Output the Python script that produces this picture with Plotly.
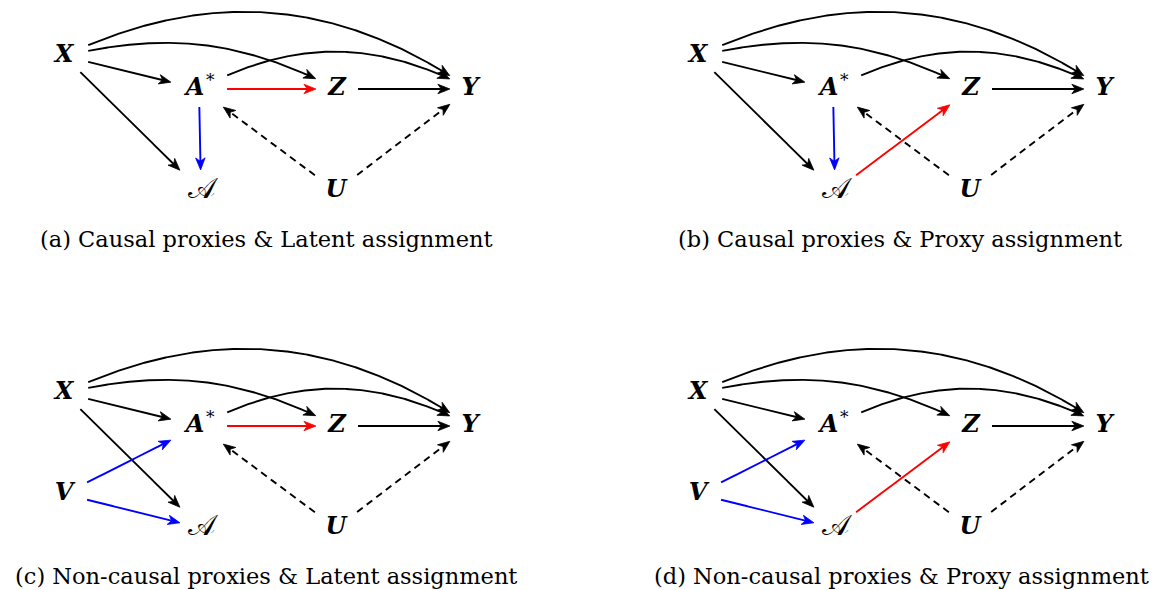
import numpy as np
import plotly.graph_objects as go

# ---- graph structure -------------------------------------------------------
node_ids = ["X", "Astar", "Z", "Y", "Acal", "U", "V"]
node_text = {
    "X": "<b><i>X</i></b>",
    "Astar": "<b><i>A</i></b>",
    "Z": "<b><i>Z</i></b>",
    "Y": "<b><i>Y</i></b>",
    "Acal": "𝒜",
    "U": "<b><i>U</i></b>",
    "V": "<b><i>V</i></b>",
}

# edges shared by every panel: (source, target, kind, bend in degrees)
shared_edges = [
    ("X", "Astar", "plain", 0),
    ("X", "Z", "plain", 20),
    ("X", "Y", "plain", 30),
    ("Astar", "Y", "plain", 28),
    ("Z", "Y", "plain", 0),
    ("X", "Acal", "plain", 0),
    ("U", "Astar", "latent", 0),
    ("U", "Y", "latent", 0),
]
latent_assignment = [("Astar", "Z", "effect", 0)]
proxy_assignment = [("Acal", "Z", "effect", 0)]
causal_proxies = [("Astar", "Acal", "proxy", 0)]
noncausal_proxies = [("V", "Astar", "proxy", 0), ("V", "Acal", "proxy", 0)]

captions = [
    "(a) Causal proxies &amp; Latent assignment",
    "(b) Causal proxies &amp; Proxy assignment",
    "(c) Non-causal proxies &amp; Latent assignment",
    "(d) Non-causal proxies &amp; Proxy assignment",
]
panel_edges = [
    shared_edges + causal_proxies + latent_assignment,
    shared_edges + causal_proxies + proxy_assignment,
    shared_edges + noncausal_proxies + latent_assignment,
    shared_edges + noncausal_proxies + proxy_assignment,
]
panel_nodes = [
    ["X", "Astar", "Z", "Y", "Acal", "U"],
    ["X", "Astar", "Z", "Y", "Acal", "U"],
    ["X", "Astar", "Z", "Y", "Acal", "U", "V"],
    ["X", "Astar", "Z", "Y", "Acal", "U", "V"],
]

# ---- layout ----------------------------------------------------------------
W, H = 1156, 590
node_pos = {"X": (64, 56), "Astar": (199, 89), "Z": (337, 89), "Y": (470, 89),
            "Acal": (201, 191), "U": (336, 191), "V": (64, 157)}
node_box = {"X": (24, 16), "Astar": (28, 18), "Z": (21, 16), "Y": (20, 16),
            "Acal": (21, 21), "U": (21, 17), "V": (23, 16)}
# label anchor shifts inside a node (the latent node carries a star)
label_shift = {"Astar": (-4, 0)}
star_shift = (11, -7)
panel_offset = [(0, 0), (634, 0), (0, 337), (634, 337)]
caption_pos = [(266, 239), (900, 239), (266, 576), (901, 576)]

styles = {
    "plain": dict(color="black", dash="solid"),
    "latent": dict(color="black", dash="7px,5px"),
    "effect": dict(color="#ff0000", dash="solid"),
    "proxy": dict(color="#0000ff", dash="solid"),
}
LINE_W = 1.9
HEAD_L, HEAD_W = 12.0, 9.5


def inside(p, c, box):
    return abs(p[0] - c[0]) <= box[0] and abs(p[1] - c[1]) <= box[1]


def edge_path(p0, p3, bend, box0, box3):
    p0, p3 = np.array(p0, float), np.array(p3, float)
    d = p3 - p0
    dist = np.hypot(*d)
    th = np.arctan2(d[1], d[0])
    b = np.radians(bend)
    k = 0.3915 * dist
    p1 = p0 + k * np.array([np.cos(th - b), np.sin(th - b)])
    p2 = p3 - k * np.array([np.cos(th + b), np.sin(th + b)])
    t = np.linspace(0, 1, 800)[:, None]
    pts = ((1 - t) ** 3 * p0 + 3 * (1 - t) ** 2 * t * p1
           + 3 * (1 - t) * t ** 2 * p2 + t ** 3 * p3)
    i0 = next(i for i, p in enumerate(pts) if not inside(p, p0, box0))
    i1 = max(i for i, p in enumerate(pts) if not inside(p, p3, box3))
    return pts[i0:i1 + 1]


line_groups = {}
head_groups = {}
for pi, edges in enumerate(panel_edges):
    ox, oy = panel_offset[pi]
    for src, dst, kind, bend in edges:
        c0 = (node_pos[src][0] + ox, node_pos[src][1] + oy)
        c3 = (node_pos[dst][0] + ox, node_pos[dst][1] + oy)
        pts = edge_path(c0, c3, bend, node_box[src], node_box[dst])
        tip = pts[-1]
        seg = np.cumsum(np.r_[0, np.hypot(*np.diff(pts[::-1], axis=0).T)])
        back = pts[::-1][np.searchsorted(seg, 4.0)]
        u = (tip - back) / np.hypot(*(tip - back))
        n = np.array([-u[1], u[0]])
        stop = 0.65 * HEAD_L
        keep = pts[::-1][seg > stop][::-1]
        keep = np.vstack([keep, tip - stop * u])
        st = styles[kind]
        key = (st["color"], st["dash"])
        lx, ly = line_groups.setdefault(key, ([], []))
        lx.extend(list(keep[:, 0]) + [None])
        ly.extend(list(keep[:, 1]) + [None])
        head = [tip,
                tip - HEAD_L * u + HEAD_W / 2 * n,
                tip - 0.72 * HEAD_L * u,
                tip - HEAD_L * u - HEAD_W / 2 * n,
                tip]
        hx, hy = head_groups.setdefault(st["color"], ([], []))
        hx.extend([p[0] for p in head] + [None])
        hy.extend([p[1] for p in head] + [None])

fig = go.Figure()
for (color, dash), (lx, ly) in line_groups.items():
    fig.add_trace(go.Scatter(x=lx, y=ly, mode="lines", hoverinfo="skip",
                             line=dict(color=color, width=LINE_W, dash=dash)))
for color, (hx, hy) in head_groups.items():
    fig.add_trace(go.Scatter(x=hx, y=hy, mode="lines", fill="toself",
                             fillcolor=color, hoverinfo="skip",
                             line=dict(color=color, width=0.8)))

# node labels: italic letters, the calligraphic proxy, and the star on A
tx, ty, tt = [], [], []
cx_, cy_, ct_ = [], [], []
sx, sy = [], []
for pi, names in enumerate(panel_nodes):
    ox, oy = panel_offset[pi]
    for nm in names:
        dx, dy = label_shift.get(nm, (0, 0))
        px, py = node_pos[nm][0] + ox + dx, node_pos[nm][1] + oy + dy
        if nm == "Acal":
            cx_.append(px); cy_.append(py); ct_.append(node_text[nm])
        else:
            tx.append(px); ty.append(py); tt.append(node_text[nm])
        if nm == "Astar":
            sx.append(px + star_shift[0]); sy.append(py + star_shift[1])
fig.add_trace(go.Scatter(x=tx, y=ty, text=tt, mode="text",
                         textposition="middle center", hoverinfo="skip",
                         textfont=dict(family="DejaVu Serif", size=24, color="black")))
fig.add_trace(go.Scatter(x=cx_, y=cy_, text=ct_, mode="text",
                         textposition="middle center", hoverinfo="skip",
                         textfont=dict(size=29, color="black")))
fig.add_trace(go.Scatter(x=sx, y=sy, text=["*"] * len(sx), mode="text",
                         textposition="middle right", hoverinfo="skip",
                         textfont=dict(family="DejaVu Serif", size=17, color="black")))

for (cx, cy), cap in zip(caption_pos, captions):
    fig.add_annotation(x=cx, y=cy, text=cap, showarrow=False,
                       xanchor="center", yanchor="middle",
                       font=dict(family="DejaVu Serif", size=22.5, color="black"))

fig.update_layout(
    width=W, height=H, margin=dict(l=0, r=0, t=0, b=0),
    paper_bgcolor="white", plot_bgcolor="white", showlegend=False,
    xaxis=dict(range=[0, W], visible=False, fixedrange=True),
    yaxis=dict(range=[H, 0], visible=False, fixedrange=True),
)
fig.write_html("out.html")
